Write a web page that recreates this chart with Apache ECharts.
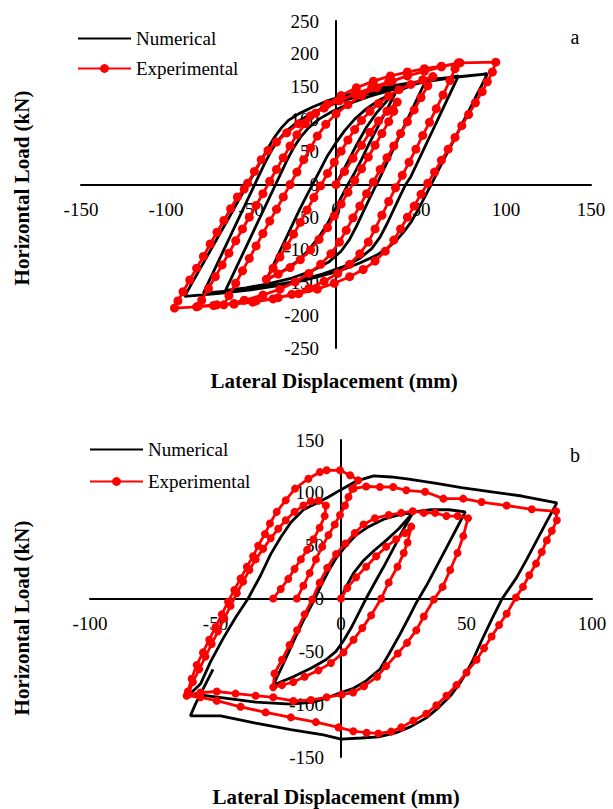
<!DOCTYPE html>
<html>
<head>
<meta charset="utf-8">
<script src="https://cdn.jsdelivr.net/npm/echarts@6/dist/echarts.min.js"></script>
<style>
  html, body { margin: 0; padding: 0; background: #fff; }
  #chart { width: 613px; height: 809px; }
</style>
</head>
<body>
<div id="chart"></div>
<script>
// Tick values for the two panels
const ticksXA = [-150, -100, -50, 0, 50, 100, 150];
const ticksYA = [-250, -200, -150, -100, -50, 0, 50, 100, 150, 200, 250];
const ticksXB = [-100, -50, 0, 50, 100];
const ticksYB = [-150, -100, -50, 0, 50, 100, 150];

// Panel a: numerical hysteresis path [displacement mm, load kN]
const numericalA = [
  [0,0],[6,30],[12,60],[18,88],[24,110],[30,128],[35,140],
  [31,120],[27,100],[23,80],[19,60],[15,38],[11,18],[7,0],[3,-20],[-1,-40],[-5,-60],[-10,-80],[-16,-100],[-23,-118],[-31,-132],[-41,-146],
  [-37,-124],[-33,-102],[-29,-80],[-25,-58],[-21,-36],[-17,-16],[-13,4],[-9,24],[-5,44],[0,64],[5,82],[11,100],[18,116],[26,130],[35,141],[44,151],[53,160],
  [49,138],[45,116],[41,94],[37,72],[33,50],[29,28],[25,6],[23,-4],[20,-20],[16,-42],[12,-64],[8,-84],[3,-102],[-4,-118],[-14,-132],[-26,-143],[-40,-152],[-53,-158],[-65,-162],
  [-61,-140],[-57,-118],[-53,-96],[-49,-74],[-45,-52],[-41,-30],[-37,-8],[-33,14],[-29,36],[-25,56],[-21,72],[-16,87],[-10,100],[-2,112],[8,124],[20,135],[35,146],[52,157],[72,166],
  [68,144],[64,122],[60,100],[56,78],[52,56],[48,34],[44,12],[41,0],[38,-16],[34,-38],[30,-60],[26,-80],[21,-98],[14,-113],[4,-126],[-8,-137],[-22,-147],[-38,-155],[-56,-161],[-78,-166],
  [-74,-144],[-70,-122],[-66,-100],[-62,-78],[-58,-56],[-54,-34],[-50,-12],[-46,10],[-42,32],[-38,52],[-34,68],[-29,82],[-23,95],[-15,108],[-5,120],[8,131],[25,143],[50,156],[70,164],[89,169],
  [86,153],[82,133],[78,112],[74,92],[70,71],[66,51],[62,31],[58,10],[56,0],[52,-20],[48,-40],[44,-58],[40,-72],[36,-84],[31,-96],[24,-108],[14,-120],[2,-132],[-12,-142],[-30,-153],[-50,-161],[-70,-167],[-89,-171],
  [-85,-152],[-80,-129],[-75,-106],[-70,-83],[-65,-60],[-60,-37],[-56,-18],[-52,0],[-48,18],[-44,37],[-40,56],[-36,73],[-32,87],[-28,98],[-22,108],[-14,118],[-6,127],[0,132],[10,139],[22,146],[40,154],[60,162],[89,169]
];

// Panel a: experimental hysteresis path
const experimentalA = [
  [0,0],[5,20],[10,40],[15,60],[20,80],[25,97],[30,112],[36,126],
  [34,112],[31,96],[27,78],[23,60],[19,42],[15,24],[11,6],[7,-12],[3,-30],[-1,-48],[-5,-66],[-10,-84],[-15,-100],[-21,-115],[-27,-127],[-34,-137],[-41,-145],
  [-37,-128],[-33,-111],[-29,-94],[-25,-76],[-21,-58],[-17,-39],[-13,-20],[-9,-2],[-5,17],[-1,34],[3,51],[7,68],[11,84],[15,98],[20,112],[25,124],[31,135],[37,145],[44,153],[51,160],[57,165],
  [54,151],[50,133],[46,114],[42,96],[38,78],[34,59],[30,41],[26,23],[22,4],[18,-14],[14,-33],[10,-51],[6,-70],[2,-88],[-3,-106],[-9,-122],[-16,-136],[-24,-149],[-33,-160],[-43,-169],[-54,-177],[-66,-184],
  [-63,-170],[-59,-151],[-55,-132],[-51,-113],[-47,-94],[-43,-75],[-39,-56],[-35,-38],[-31,-19],[-27,0],[-23,19],[-19,38],[-15,56],[-11,74],[-6,92],[0,108],[7,122],[15,136],[24,148],[33,158],[42,166],[52,173],[62,180],[72,186],
  [70,177],[67,159],[63,137],[59,116],[55,95],[51,75],[47,54],[43,34],[39,14],[35,-5],[31,-26],[27,-47],[23,-68],[19,-88],[14,-106],[8,-122],[1,-136],[-7,-148],[-16,-159],[-26,-168],[-37,-175],[-49,-180],[-60,-183],[-70,-184],[-81,-186],
  [-79,-177],[-75,-159],[-71,-141],[-67,-123],[-63,-105],[-59,-86],[-55,-68],[-51,-50],[-47,-32],[-43,-14],[-39,5],[-35,23],[-31,41],[-27,59],[-23,76],[-18,93],[-12,109],[-5,123],[3,136],[12,148],[22,158],[32,166],[42,172],[52,177],[62,181],[73,186],[94,187],
  [92,172],[89,157],[86,142],[82,125],[78,107],[74,90],[70,72],[66,54],[62,37],[58,19],[54,2],[50,-15],[46,-33],[42,-50],[38,-68],[34,-85],[29,-102],[23,-117],[16,-130],[8,-141],[-1,-151],[-11,-160],[-22,-167],[-34,-173],[-47,-178],[-60,-182],[-72,-185],[-82,-187],[-95,-189],
  [-93,-178],[-90,-164],[-86,-146],[-82,-128],[-78,-110],[-74,-91],[-70,-73],[-66,-55],[-62,-37],[-58,-19],[-54,-7],[-52,2],[-48,20],[-44,38],[-40,52],[-35,65],[-29,79],[-22,93],[-15,105],[-7,117],[2,128],[11,138],[21,148],[31,157]
];

// Panel b: numerical hysteresis path
const numericalB = [
  [0,0],[2,11],[5,24],[9,36],[13,45],[18,55],[23,66],[28.6,81],
  [25,66],[21,48],[17,30],[13,13],[10,0],[7,-14],[4,-28],[1,-40],[-2,-50],[-6,-58],[-12,-66],[-19,-74],[-27,-82],
  [-23,-62],[-19,-41],[-15,-21],[-11,-3],[-8,12],[-5,26],[-2,38],[2,50],[6,60],[11,68],[17,75],[23,79],[29,82],[36,84],[43,84],[49.5,82],
  [46,66],[42,48],[38,30],[34,12],[30,-4],[27,-18],[23,-36],[19,-53],[15.5,-67],[10,-78],[5,-85],[0,-89],[-5,-93.5],[-11,-98],[-20,-100],[-34,-98],[-47,-94],[-60,-90],
  [-56,-81],[-52,-60],[-47,-38],[-42,-18],[-37,0],[-32,22],[-28,42],[-24,58],[-20,72],[-15,84],[-10,90],[-5,96],[0,103],[6,111],[13,116],[20,115],[27,113],[38,109],[48,105],[60,101],[72,97],[86,90.5],
  [82,73],[78,55],[74,37],[70,20],[66,6],[64,-1],[60,-20],[56,-40],[52,-61],[48,-78],[44,-91],[39,-103],[34,-113],[28,-121],[22,-127],[15,-131],[8,-132],[0,-133],[-7,-129],[-20,-124],[-34,-118],[-48,-111],[-60,-111],
  [-58,-100],[-51,-67]
];

// Panel b: experimental hysteresis, recorded in two runs
const experimentalB1 = [
  [0,0],[2.5,10],[6,20],[10,30],[14,40],[18,49],[22,56],[25.5,62],[28,68],
  [26.5,53],[25,43],[22.5,30],[19,15],[16,0],[12,-16],[8.5,-28],[5,-39],[1,-51],[-4,-61],[-9,-68],[-14.5,-74],[-19,-79],[-23.5,-82],[-27,-84],
  [-26.5,-71],[-23.5,-58],[-20.5,-44],[-17.5,-30],[-14.5,-15],[-11.5,-1],[-8.5,15],[-5.5,29],[-2,42],[1.8,52],[5.5,62],[9,70],[13.5,76],[19,79],[24,81],[28.6,82.6],[33,81],[37.5,81],[42,78],[46.5,78],[50.6,76],
  [48.7,59],[46.4,43],[43.5,27],[40.5,11],[37,-1],[33,-17],[30,-30],[26.3,-42],[22.6,-52],[18,-64],[14.4,-74],[9.2,-83],[4.8,-89],[0.3,-91],[-5.7,-93.5],[-12,-96],[-19,-97],[-27,-93.5],[-34,-92],[-42,-90],[-49.5,-88],[-56,-89],[-61,-91],
  [-59,-79],[-56.5,-67],[-54,-55],[-51.5,-43],[-49,-31],[-46.5,-19],[-44,-7],[-41.5,5],[-39,16],[-36.5,27],[-34,37],[-31,47],[-28,57],[-25,66],[-22,74],[-18.5,82],[-15,88],[-12,92],[-9,92.5],[-6,88],
  [-6.5,78],[-8.5,67],[-11,56],[-13.5,46],[-16,37],[-18.5,28],[-21,18.6],[-24,9],[-27,0]
];
const experimentalB2 = [
  [-17.6,0],[-15,12],[-12.5,24],[-10,37],[-7.5,49],[-5,60],[-2.5,70],[-0.4,79],[1.6,88],[3,96],[4.5,104],[6.9,111.8],[3.6,116.6],[-0.4,121.3],[-5.7,121.3],[-8.4,119.7],[-13,113.4],[-18.3,104],[-22,93],[-25.6,82],[-28.3,71],[-30.3,61],[-33,50],[-35,40],[-37.5,30],[-40,19],[-42.5,8],[-45,-3],[-47.5,-15],[-50,-27],[-52.5,-39],[-55,-51],[-57.5,-63],[-59.5,-76],[-61,-88],[-61.5,-92],
  [-56,-93.5],[-49.5,-96.7],[-40,-102.5],[-30,-107.8],[-20,-112.5],[-10,-117],[-1,-122],[4.9,-125.6],[10.2,-127],[14.9,-127.7],[20,-126],[24,-122],[28.8,-115.6],[34,-109],[38,-101],[42,-92],[46,-82],[50,-70],[54,-58],[57,-47],[60,-36],[63,-25],[66,-14.5],[69.7,1],[72.5,11],[75,22],[77.7,33],[80,44],[82,55],[84,64],[86,74],[85.7,82.5],
  [76,84.4],[66,88],[56,91.3],[48.7,94.5],[40.8,94.5],[33.5,101],[26,102.4],[20.8,105.5],[15.5,105.5],[10,106],[5,104]
];

const FONT = 'Liberation Serif, Times New Roman, serif';
const RED = '#ff0000';

// Panel boxes in pixels
const boxA = { left: 81, top: 21, width: 510, height: 327 };
const boxB = { left: 90, top: 440, width: 502, height: 317 };

// Shift an axis from the grid edge onto the other axis's zero line
function zeroShift(ticks, length) {
  const lo = ticks[0], hi = ticks[ticks.length - 1];
  return -length * (0 - lo) / (hi - lo);
}

function valueAxis(gridIndex, ticks, isX, box, otherTicks) {
  return {
    type: 'value',
    gridIndex: gridIndex,
    position: isX ? 'bottom' : 'left',
    offset: isX ? zeroShift(otherTicks, box.height) : zeroShift(otherTicks, box.width),
    min: ticks[0],
    max: ticks[ticks.length - 1],
    interval: ticks[1] - ticks[0],
    axisLine: { onZero: false, lineStyle: { color: '#000', width: 2 } },
    axisTick: { show: false },
    splitLine: { show: false },
    axisLabel: {
      color: '#000', fontFamily: FONT, fontSize: 19,
      margin: isX ? 15 : 17,
      showMinLabel: true, showMaxLabel: true
    }
  };
}

function numericalSeries(data, idx) {
  return {
    name: 'Numerical', type: 'line', data: data,
    xAxisIndex: idx, yAxisIndex: idx,
    symbol: 'none', smooth: false,
    lineStyle: { color: '#000', width: 2.8 },
    itemStyle: { color: '#000' },
    z: 2
  };
}

function experimentalSeries(data, idx, size) {
  return {
    name: 'Experimental', type: 'line', data: data,
    xAxisIndex: idx, yAxisIndex: idx,
    symbol: 'circle', symbolSize: size, showSymbol: true, showAllSymbol: true,
    lineStyle: { color: RED, width: 2.8 },
    itemStyle: { color: RED },
    z: 3
  };
}

function legendAt(left, top, gap) {
  return {
    orient: 'vertical', left: left, top: top, padding: 0,
    itemWidth: 53, itemHeight: 11, itemGap: gap,
    selectedMode: false,
    data: [
      { name: 'Numerical', itemStyle: { opacity: 0 } },
      { name: 'Experimental' }
    ],
    textStyle: { color: '#000', fontFamily: FONT, fontSize: 19 }
  };
}

function label(text, x, y, font, rotation) {
  return {
    type: 'text', x: x, y: y, rotation: rotation || 0,
    style: { text: text, font: font, fill: '#000', align: 'center', verticalAlign: 'middle' }
  };
}

const chart = echarts.init(document.getElementById('chart'), null, { renderer: 'svg' });
chart.setOption({
  animation: false,
  backgroundColor: '#fff',
  grid: [
    { left: boxA.left, top: boxA.top, width: boxA.width, height: boxA.height },
    { left: boxB.left, top: boxB.top, width: boxB.width, height: boxB.height }
  ],
  xAxis: [valueAxis(0, ticksXA, true, boxA, ticksYA), valueAxis(1, ticksXB, true, boxB, ticksYB)],
  yAxis: [valueAxis(0, ticksYA, false, boxA, ticksXA), valueAxis(1, ticksYB, false, boxB, ticksXB)],
  legend: [legendAt(77, 29, 11), legendAt(89, 440, 13)],
  series: [
    numericalSeries(numericalA, 0),
    experimentalSeries(experimentalA, 0, 9),
    numericalSeries(numericalB, 1),
    experimentalSeries(experimentalB1, 1, 8),
    experimentalSeries(experimentalB2, 1, 8)
  ],
  graphic: [
    label('a', 575, 37, '20px ' + FONT),
    label('b', 575, 455, '20px ' + FONT),
    label('Lateral Displacement (mm)', 334, 381, 'bold 21px ' + FONT),
    label('Lateral Displacement (mm)', 336, 797, 'bold 21px ' + FONT),
    label('Horizontal Load (kN)', 22, 188, 'bold 21px ' + FONT, Math.PI / 2),
    label('Horizontal Load (kN)', 22, 618, 'bold 21px ' + FONT, Math.PI / 2)
  ]
});
</script>
</body>
</html>
